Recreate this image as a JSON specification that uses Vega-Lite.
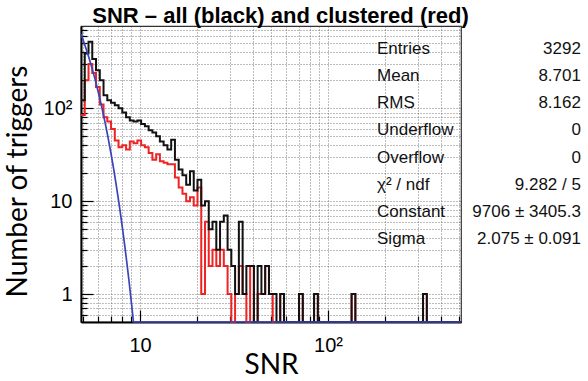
{
  "$schema": "https://vega.github.io/schema/vega-lite/v6.json",
  "width": 380,
  "height": 296,
  "autosize": {"type": "none"},
  "padding": {"left": 81, "top": 26, "right": 127, "bottom": 59},
  "background": "white",
  "config": {
    "view": {"stroke": "#333333", "strokeWidth": 1.2},
    "axis": {"labelFont": "Liberation Sans", "labelColor": "black", "labelFontSize": 20, "labelOverlap": false, "labelFlush": false, "grid": true, "gridDash": [1, 2], "gridColor": "#444444", "gridWidth": 0.7, "tickColor": "black", "tickWidth": 1.2, "domainColor": "black", "domainWidth": 2, "titleFont": "Lato", "titleFontSize": 28, "titleFontWeight": "normal", "titleColor": "black"}
  },
  "datasets": {
    "hist": [
      {"snr": 4.851, "all": 122, "clustered": 85},
      {"snr": 5.079, "all": 390, "clustered": 200},
      {"snr": 5.318, "all": 520, "clustered": 300},
      {"snr": 5.568, "all": 340, "clustered": 240},
      {"snr": 5.83, "all": 257, "clustered": 170},
      {"snr": 6.105, "all": 200, "clustered": 110},
      {"snr": 6.392, "all": 138, "clustered": 80},
      {"snr": 6.693, "all": 122, "clustered": 72},
      {"snr": 7.008, "all": 115, "clustered": 60},
      {"snr": 7.338, "all": 108, "clustered": 45},
      {"snr": 7.683, "all": 100, "clustered": 38},
      {"snr": 8.045, "all": 90, "clustered": 40},
      {"snr": 8.424, "all": 80, "clustered": 36},
      {"snr": 8.82, "all": 74, "clustered": 44},
      {"snr": 9.235, "all": 72, "clustered": 42},
      {"snr": 9.676, "all": 74, "clustered": 45},
      {"snr": 10.13, "all": 68, "clustered": 40},
      {"snr": 10.61, "all": 64, "clustered": 38},
      {"snr": 11.11, "all": 58, "clustered": 33},
      {"snr": 11.63, "all": 55, "clustered": 28},
      {"snr": 12.18, "all": 50, "clustered": 32},
      {"snr": 12.75, "all": 44, "clustered": 27},
      {"snr": 13.35, "all": 40, "clustered": 26},
      {"snr": 13.98, "all": 36, "clustered": 25},
      {"snr": 14.64, "all": 46, "clustered": 25},
      {"snr": 15.33, "all": 28, "clustered": 18},
      {"snr": 16.05, "all": 22, "clustered": 14},
      {"snr": 16.81, "all": 19, "clustered": 12},
      {"snr": 17.6, "all": 15, "clustered": 10},
      {"snr": 18.43, "all": 21, "clustered": 11},
      {"snr": 19.3, "all": 13, "clustered": 9},
      {"snr": 20.21, "all": 17, "clustered": 14},
      {"snr": 21.16, "all": 9, "clustered": 1},
      {"snr": 22.16, "all": 10, "clustered": 6},
      {"snr": 23.2, "all": 5, "clustered": 2},
      {"snr": 24.29, "all": 6, "clustered": 3},
      {"snr": 25.45, "all": 3, "clustered": 2},
      {"snr": 26.64, "all": 6, "clustered": 3},
      {"snr": 27.9, "all": 7, "clustered": 2},
      {"snr": 29.22, "all": 3, "clustered": 1},
      {"snr": 30.59, "all": 2, "clustered": 0},
      {"snr": 32.03, "all": 1, "clustered": 1},
      {"snr": 33.55, "all": 6, "clustered": 2},
      {"snr": 35.13, "all": 1, "clustered": 1},
      {"snr": 36.78, "all": 2, "clustered": 0},
      {"snr": 38.52, "all": 2, "clustered": 2},
      {"snr": 40.33, "all": 0, "clustered": 0},
      {"snr": 42.23, "all": 2, "clustered": 1},
      {"snr": 44.23, "all": 1, "clustered": 1},
      {"snr": 46.31, "all": 2, "clustered": 2},
      {"snr": 48.51, "all": 1, "clustered": 1},
      {"snr": 50.79, "all": 1, "clustered": 0},
      {"snr": 53.19, "all": 0, "clustered": 0},
      {"snr": 55.69, "all": 1, "clustered": 1},
      {"snr": 58.31, "all": 0, "clustered": 0},
      {"snr": 70.11, "all": 1, "clustered": 1},
      {"snr": 73.42, "all": 0, "clustered": 0},
      {"snr": 84.29, "all": 1, "clustered": 1},
      {"snr": 88.28, "all": 0, "clustered": 0},
      {"snr": 133.5, "all": 1, "clustered": 1},
      {"snr": 139.8, "all": 0, "clustered": 0},
      {"snr": 320.3, "all": 1, "clustered": 1},
      {"snr": 335.5, "all": 0, "clustered": 0},
      {"snr": 507.9, "all": 0, "clustered": 0}
    ],
    "fit": [
      {"snr": 4.85, "f": 632},
      {"snr": 5.0, "f": 532},
      {"snr": 5.25, "f": 395},
      {"snr": 5.5, "f": 289},
      {"snr": 5.75, "f": 209},
      {"snr": 6.0, "f": 148},
      {"snr": 6.25, "f": 104},
      {"snr": 6.5, "f": 71.8},
      {"snr": 6.75, "f": 48.9},
      {"snr": 7.0, "f": 32.8},
      {"snr": 7.25, "f": 21.7},
      {"snr": 7.5, "f": 14.1},
      {"snr": 7.75, "f": 9.07},
      {"snr": 8.0, "f": 5.74},
      {"snr": 8.25, "f": 3.58},
      {"snr": 8.5, "f": 2.2},
      {"snr": 8.75, "f": 1.34},
      {"snr": 9.0, "f": 0.797},
      {"snr": 9.22, "f": 0.5},
      {"snr": 9.5, "f": 0.27},
      {"snr": 20, "f": 0},
      {"snr": 507.9, "f": 0}
    ],
    "stats": [
      {"stat": "Entries", "value": "3292"},
      {"stat": "Mean", "value": "8.701"},
      {"stat": "RMS", "value": "8.162"},
      {"stat": "Underflow", "value": "0"},
      {"stat": "Overflow", "value": "0"},
      {"stat": "χ² / ndf", "value": "9.282 / 5"},
      {"stat": "Constant", "value": "9706 ± 3405.3"},
      {"stat": "Sigma", "value": "2.075 ± 0.091"}
    ]
  },
  "layer": [
    {
      "encoding": {
        "x": {"field": "snr", "type": "quantitative", "scale": {"type": "log", "domain": [4.85, 510], "nice": false},
          "axis": {"values": [5, 6, 7, 8, 9, 10, 20, 30, 40, 50, 60, 70, 80, 90, 100, 200, 300, 400, 500],
            "labelExpr": "datum.value == 10 ? '10' : datum.value == 100 ? '10²' : ''",
            "tickSize": {"condition": {"test": "datum.value == 10 || datum.value == 100", "value": -12}, "value": -6},
            "labelPadding": 25, "title": "SNR", "titlePadding": -10}}
      },
      "layer": [
        {
          "data": {"values": [{"box": "stats"}]},
          "mark": {"type": "rect", "fill": "white", "clip": false},
          "encoding": {
            "x": {"datum": 161, "type": "quantitative"},
            "x2": {"datum": 2480},
            "y": {"datum": 647, "type": "quantitative", "scale": {"type": "log", "domain": [0.5, 770], "nice": false, "clamp": true}},
            "y2": {"datum": 2.84}
          }
        },
        {
          "data": {"name": "hist"},
          "mark": {"type": "line", "interpolate": "step-after", "color": "#ee2424", "strokeWidth": 2},
          "encoding": {
            "y": {"field": "clustered", "type": "quantitative", "scale": {"type": "log", "domain": [0.5, 770], "nice": false, "clamp": true},
              "axis": {"values": [0.6, 0.7, 0.8, 0.9, 1, 2, 3, 4, 5, 6, 7, 8, 9, 10, 20, 30, 40, 50, 60, 70, 80, 90, 100, 200, 300, 400, 500, 600, 700],
                "labelExpr": "datum.value == 1 ? '1' : datum.value == 10 ? '10' : datum.value == 100 ? '10²' : ''",
                "tickSize": {"condition": {"test": "datum.value == 1 || datum.value == 10 || datum.value == 100", "value": -12}, "value": -6},
                "labelPadding": 21, "title": "Number of triggers", "titlePadding": 11, "titleY": 155}}
          }
        },
        {
          "data": {"name": "hist"},
          "mark": {"type": "line", "interpolate": "step-after", "color": "#111111", "strokeWidth": 2},
          "encoding": {"y": {"field": "all", "type": "quantitative"}}
        },
        {
          "data": {"name": "fit"},
          "mark": {"type": "line", "color": "#3a44b8", "strokeWidth": 1.7},
          "encoding": {"y": {"field": "f", "type": "quantitative"}}
        }
      ]
    },
    {
      "data": {"name": "stats"},
      "encoding": {
        "y": {"field": "stat", "type": "ordinal", "sort": null, "axis": null,
          "scale": {"type": "point", "domain": ["Entries", "Mean", "RMS", "Underflow", "Overflow", "χ² / ndf", "Constant", "Sigma", "spare 1", "spare 2"], "padding": 0.953, "align": 0.445}}
      },
      "layer": [
        {
          "mark": {"type": "text", "align": "left", "baseline": "middle", "font": "Liberation Sans", "fontSize": 17, "color": "#111111", "clip": false},
          "encoding": {"x": {"datum": 182.3, "type": "quantitative", "scale": {"type": "log", "domain": [4.85, 510], "nice": false},
            "axis": {"orient": "top", "title": "SNR – all (black) and clustered (red)", "labels": false, "ticks": false, "domain": false, "grid": false,
              "titleFont": "Liberation Sans", "titleFontSize": 22, "titleFontWeight": "bold", "titleColor": "black", "titleBaseline": "alphabetic", "titlePadding": 4, "titleX": 199}},
            "text": {"field": "stat"}}
        },
        {
          "mark": {"type": "text", "align": "right", "baseline": "middle", "font": "Liberation Sans", "fontSize": 17, "color": "#111111", "clip": false},
          "encoding": {"x": {"datum": 2217, "type": "quantitative"}, "text": {"field": "value"}}
        }
      ]
    }
  ],
  "resolve": {"scale": {"y": "independent"}, "axis": {"y": "independent", "x": "independent"}}
}
